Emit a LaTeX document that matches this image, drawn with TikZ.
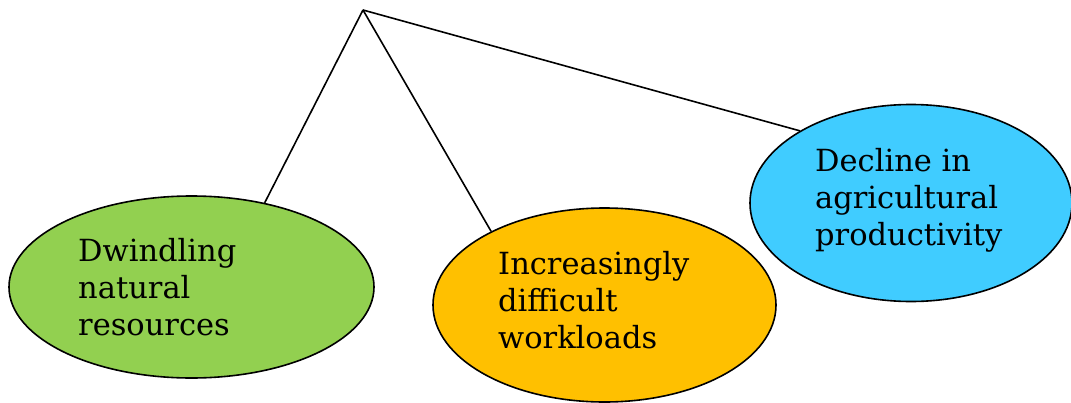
\documentclass[tikz,border=0pt]{standalone}
\usepackage{fontspec}
\setmainfont{DejaVu Serif}
\usetikzlibrary{shapes.geometric}
\definecolor{leafgreen}{HTML}{92D050}
\definecolor{ambergold}{HTML}{FFC000}
\definecolor{skyblue}{HTML}{40CCFF}
\tikzset{
  bubble/.style={ellipse, draw=black, line width=1.6pt, inner sep=0pt},
  caption/.style={anchor=base west, align=left, inner sep=0pt,
    font=\fontsize{30.5}{36.7}\selectfont},
  link/.style={draw=black, line width=1.6pt}
}
\begin{document}
\begin{tikzpicture}[x=1pt, y=-1pt]
  \useasboundingbox (0,0) rectangle (1071,402);
  \coordinate (apex) at (363,10);
  % three outcome bubbles
  \node[bubble, fill=leafgreen, minimum width=365pt, minimum height=182pt] (res) at (191.5,287) {};
  \node[bubble, fill=ambergold, minimum width=343pt, minimum height=194pt] (work) at (604.5,305) {};
  \node[bubble, fill=skyblue, minimum width=322pt, minimum height=197pt] (agri) at (911,203) {};
  % connectors from the common apex
  \draw[link] (apex) -- (res.49.6);
  \draw[link] (apex) -- (work.147.8);
  \draw[link] (apex) -- (agri.147.5);
  % labels (anchored on the baseline of their last line)
  \node[caption] (resT) at (78,335) {Dwindling\\natural\\resources};
  \node[caption] (workT) at (498,348) {Increasingly\\difficult\\workloads};
  \node[caption] (agriT) at (815,245) {Decline in\\agricultural\\productivity};
\end{tikzpicture}
\end{document}
